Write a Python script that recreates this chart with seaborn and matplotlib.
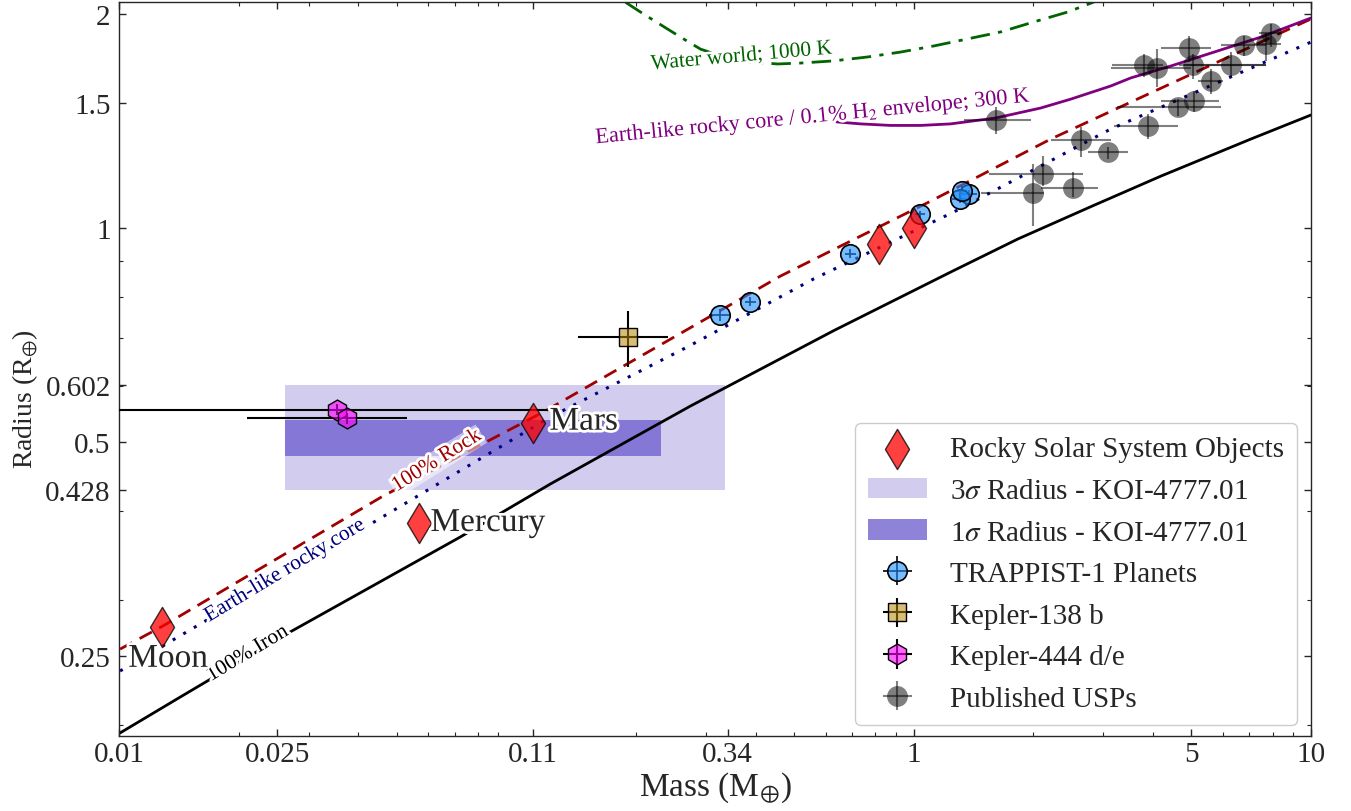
import numpy as np
import matplotlib
matplotlib.use("Agg")
import matplotlib.pyplot as plt
import matplotlib.patheffects as pe
from matplotlib.patches import Patch
import seaborn as sns

# --- model curves ---
iron_m = [0.01006, 0.0140, 0.02696, 0.0723, 0.1218, 0.2744, 0.631, 1.239, 1.828, 2.818, 4.19, 7.06, 10.0]
iron_r = [0.1949, 0.2176, 0.2703, 0.3677, 0.4365, 0.5619, 0.7178, 0.8670, 0.9649, 1.074, 1.183, 1.334, 1.442]

rock_m = [0.01006, 0.0129, 0.04624, 0.1169, 0.4624, 1.104, 2.214, 10.0]
rock_r = [0.2557, 0.2756, 0.4199, 0.5510, 0.856, 1.091, 1.334, 1.968]

earth_m = [0.01006, 0.04214, 0.1218, 0.2696, 0.5598, 1.261, 3.134, 10.0]
earth_r = [0.2382, 0.3809, 0.5422, 0.6804, 0.8479, 1.053, 1.378, 1.826]

h2_m = [0.6397, 0.7355, 0.8751, 1.041, 1.239, 1.609, 2.089, 2.486, 3.134, 3.521, 4.441, 5.600, 7.483, 10.0]
h2_r = [1.410, 1.401, 1.394, 1.394, 1.401, 1.428, 1.475, 1.518, 1.584, 1.626, 1.690, 1.762, 1.856, 1.974]

water_m = [0.1883, 0.2089, 0.2401, 0.2634, 0.2906, 0.3265, 0.3886, 0.4544, 0.5193,
           0.6289, 0.7657, 0.9275, 1.1230, 1.3677, 1.6562, 2.0055, 2.4434, 2.8403]
water_r = [2.077, 2.000, 1.905, 1.845, 1.785, 1.746, 1.712, 1.701, 1.706,
           1.718, 1.740, 1.768, 1.803, 1.845, 1.887, 1.949, 2.013, 2.079]

# --- KOI-4777.01 radius bands ---
band_m = [0.0262, 0.336]
band1_m = [0.0262, 0.231]
r3_lo, r3_hi = 0.428, 0.602
r1_lo, r1_hi = 0.478, 0.537

# --- rocky solar system objects ---
sol_names = ["Moon", "Mercury", "Mars", "Venus", "Earth"]
sol_m = [0.0128, 0.057, 0.110, 0.82, 1.0]
sol_r = [0.275, 0.385, 0.532, 0.950, 1.0]

# --- TRAPPIST-1 ---
tr_m = [1.374, 1.308, 0.388, 0.692, 1.039, 1.321, 0.326]
tr_merr = [0.069, 0.056, 0.012, 0.022, 0.031, 0.038, 0.020]
tr_r = [1.116, 1.097, 0.788, 0.920, 1.045, 1.129, 0.755]
tr_rerr = [0.014, 0.014, 0.011, 0.013, 0.013, 0.015, 0.014]

# --- Kepler-138 b ---
k138_m = [0.191]
k138_merr = [[0.048], [0.050]]
k138_r = [0.703]
k138_rerr = [[0.066], [0.061]]

# --- Kepler-444 d/e ---
k444_m = [0.0354, 0.0375]
k444_merr = [[0.030, 0.0165], [0.094, 0.0156]]
k444_r = [0.555, 0.540]
k444_rerr = [0.010, 0.010]

# --- published USPs ---
usp_m = [1.609, 2.110, 1.991, 2.511, 2.635, 3.075, 3.879, 4.617, 5.082,
         5.600, 6.288, 3.801, 4.091, 4.920, 5.035, 6.80, 7.70, 7.95]
usp_m_lo = [1.337, 1.545, 1.48, 2.09, 2.214, 2.744, 3.19, 3.24, 4.2,
            5.2, 4.8, 3.16, 3.13, 4.2, 4.66, 5.95, 7.2, 7.4]
usp_m_hi = [1.971, 2.666, 2.13, 2.907, 3.134, 3.46, 4.62, 5.94, 5.87,
            6.0, 7.7, 4.25, 5.0, 5.6, 7.7, 7.7, 8.4, 8.4]
usp_r = [1.420, 1.191, 1.120, 1.137, 1.331, 1.278, 1.393, 1.479, 1.510,
         1.611, 1.697, 1.695, 1.677, 1.789, 1.698, 1.809, 1.815, 1.878]
usp_r_lo = [1.356, 1.146, 1.0065, 1.105, 1.258, 1.25, 1.334, 1.437, 1.456,
            1.543, 1.63, 1.63, 1.58, 1.712, 1.62, 1.745, 1.716, 1.80]
usp_r_hi = [1.480, 1.262, 1.230, 1.199, 1.387, 1.30, 1.446, 1.518, 1.558,
            1.674, 1.77, 1.757, 1.785, 1.86, 1.757, 1.86, 1.88, 1.935]

x_ticks = [0.01, 0.025, 0.11, 0.34, 1, 5, 10]
x_ticklabels = ["0.01", "0.025", "0.11", "0.34", "1", "5", "10"]
y_ticks = [0.25, 0.428, 0.5, 0.602, 1, 1.5, 2]
y_ticklabels = ["0.25", "0.428", "0.5", "0.602", "1", "1.5", "2"]

sns.set_style("ticks")
plt.rcParams["font.family"] = ["Liberation Serif", "DejaVu Serif"]
plt.rcParams["mathtext.fontset"] = "stix"

fig = plt.figure(figsize=(13.51, 8.12), dpi=100)
ax = fig.add_axes([0.0881, 0.0924, 0.8823, 0.9039])
ax.set_xscale("log")
ax.set_yscale("log")

# bands
ax.fill_between(band_m, r3_lo, r3_hi, color="slateblue", alpha=0.3, lw=0, zorder=1)
ax.fill_between(band1_m, r1_lo, r1_hi, color="slateblue", alpha=0.75, lw=0, zorder=1)

# model curves
sns.lineplot(x=iron_m, y=iron_r, color="black", lw=2, ax=ax, zorder=2)
sns.lineplot(x=rock_m, y=rock_r, color="#a00000", lw=2, linestyle=(0, (5, 3)), ax=ax, zorder=2)
sns.lineplot(x=earth_m, y=earth_r, color="navy", lw=2.2, linestyle=(0, (1, 3)), ax=ax, zorder=2)
sns.lineplot(x=h2_m, y=h2_r, color="purple", lw=2, ax=ax, zorder=2)
sns.lineplot(x=water_m, y=water_r, color="darkgreen", lw=2, linestyle=(0, (7, 3, 1.5, 3)), ax=ax, zorder=2)

stroke = [pe.withStroke(linewidth=4, foreground="white")]
lab_kw = dict(ha="center", va="center", path_effects=stroke, zorder=3)
ax.text(0.0211, 0.2517, "100% Iron", color="black", rotation=31, fontsize=15.5, **lab_kw)
ax.text(0.0632, 0.470, "100% Rock", color="#a00000", rotation=32, fontsize=15.5,
        bbox=dict(facecolor="white", edgecolor="none", alpha=0.5, pad=1), **lab_kw)
ax.text(0.0262, 0.3293, "Earth-like rocky core", color="navy", rotation=31, fontsize=15.5, **lab_kw)
ax.text(0.5598, 1.428, "Earth-like rocky core / 0.1% H$_2$ envelope; 300 K", color="purple",
        rotation=5.5, fontsize=16, **lab_kw)
ax.text(0.3687, 1.740, "Water world; 1000 K", color="darkgreen", rotation=5, fontsize=15.5, **lab_kw)

# data
sns.scatterplot(x=sol_m, y=sol_r, marker="d", s=420, color="red", alpha=0.75,
                edgecolor="black", linewidth=1, ax=ax, zorder=6,
                label="Rocky Solar System Objects")
offsets = {"Moon": (-24, -23), "Mercury": (8, 0), "Mars": (12, 1)}
for name, m, r in zip(sol_names, sol_m, sol_r):
    if name in offsets:
        ax.annotate(name, (m, r), xytext=offsets[name], textcoords="offset points",
                    fontsize=24, ha="left", va="center", zorder=7,
                    path_effects=[pe.withStroke(linewidth=4, foreground="white")])

tr = ax.errorbar(tr_m, tr_r, xerr=tr_merr, yerr=tr_rerr, fmt="o", ms=14,
                 mfc=(0.12, 0.56, 1.0, 0.6), mec="black", mew=1.2, ecolor="black",
                 elinewidth=1.2, zorder=5, label="TRAPPIST-1 Planets")
k138 = ax.errorbar(k138_m, k138_r, xerr=k138_merr, yerr=k138_rerr, fmt="s", ms=13,
                   mfc=(0.72, 0.53, 0.04, 0.55), mec="black", ecolor="black",
                   elinewidth=1.5, zorder=5, label="Kepler-138 b")
k444 = ax.errorbar(k444_m, k444_r, xerr=k444_merr, yerr=k444_rerr, fmt="h", ms=15,
                   mfc=(1.0, 0.0, 1.0, 0.6), mec="black", ecolor="black",
                   elinewidth=1.5, zorder=5, label="Kepler-444 d/e")
usp_xerr = [np.subtract(usp_m, usp_m_lo), np.subtract(usp_m_hi, usp_m)]
usp_yerr = [np.subtract(usp_r, usp_r_lo), np.subtract(usp_r_hi, usp_r)]
usp = ax.errorbar(usp_m, usp_r, xerr=usp_xerr, yerr=usp_yerr, fmt="o", ms=15,
                  color="black", alpha=0.5, mec="none", elinewidth=1.5, zorder=4,
                  label="Published USPs")

ax.set_xlim(0.01, 10)
ax.set_ylim(0.1930, 2.079)
ax.set_xticks(x_ticks)
ax.set_xticklabels(x_ticklabels)
ax.set_yticks(y_ticks)
ax.set_yticklabels(y_ticklabels)
ax.tick_params(which="both", direction="in", top=True, right=True, labelsize=21)
ax.tick_params(axis="y", pad=6)
ax.tick_params(which="major", length=5, width=1)
ax.tick_params(which="minor", length=3, width=0.8)
for s in ax.spines.values():
    s.set_linewidth(1)
ax.set_xlabel(r"Mass (M$_{\oplus}$)", fontsize=24, labelpad=2)
ax.set_ylabel(r"Radius (R$_{\oplus}$)", fontsize=20)
ax.yaxis.set_label_coords(-0.0663, 0.4605)

handles, labels = ax.get_legend_handles_labels()
hmap = dict(zip(labels, handles))
order = [hmap["Rocky Solar System Objects"],
         Patch(facecolor="slateblue", alpha=0.3, lw=0),
         Patch(facecolor="slateblue", alpha=0.75, lw=0),
         tr, k138, k444, usp]
names = ["Rocky Solar System Objects", r"3$\sigma$ Radius - KOI-4777.01",
         r"1$\sigma$ Radius - KOI-4777.01", "TRAPPIST-1 Planets", "Kepler-138 b",
         "Kepler-444 d/e", "Published USPs"]
ax.legend(order, names, loc="lower right", bbox_to_anchor=(0.9883, 0.015),
          borderaxespad=0, fontsize=21, frameon=True, framealpha=1,
          labelspacing=0.52, borderpad=0.45)

fig.savefig("out.png", dpi=100)
